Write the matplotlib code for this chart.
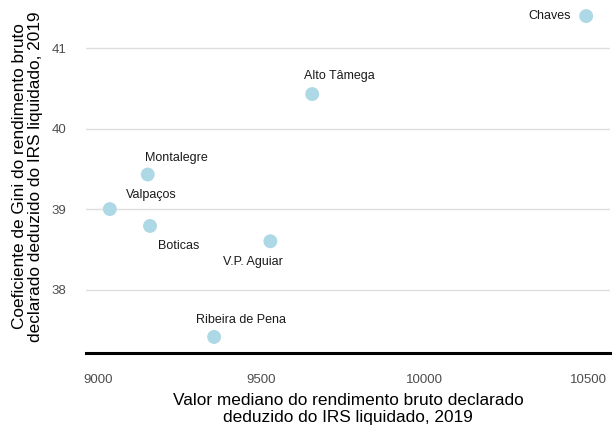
import numpy as np
import matplotlib.pyplot as plt

plt.rcParams['font.family'] = ['Liberation Sans', 'DejaVu Sans']

# values
regions = ['Chaves', 'Alto Tâmega', 'Montalegre', 'Valpaços', 'Boticas', 'V.P. Aguiar', 'Ribeira de Pena']
mediano = [10494, 9656, 9153, 9037, 9160, 9528, 9356]
gini = [41.40, 40.43, 39.43, 39.00, 38.79, 38.60, 37.41]

# label offsets in points (dx, dy) and horizontal alignment
offsets = {
    'Chaves': (-11, 0, 'right'),
    'Alto Tâmega': (-5.8, 13, 'left'),
    'Montalegre': (-2, 12, 'left'),
    'Valpaços': (11.5, 10, 'left'),
    'Boticas': (5.8, -14.4, 'left'),
    'V.P. Aguiar': (-34, -15, 'left'),
    'Ribeira de Pena': (-13, 12, 'left'),
}

fig = plt.figure(figsize=(6.13, 4.28), dpi=100)
ax = fig.add_axes([86/613, 75/428, 524/613, 353/428])

ax.scatter(mediano, gini, s=100, color='#add8e6', edgecolors='none', zorder=3)

for name, x, y in zip(regions, mediano, gini):
    dx, dy, ha = offsets[name]
    ax.annotate(name, (x, y), xytext=(dx, dy), textcoords='offset points',
                ha=ha, va='center', fontsize=9, color='#1a1a1a')

xmin, xmax = min(mediano), max(mediano)
ymin, ymax = min(gini), max(gini)
ax.set_xlim(xmin - 0.05 * (xmax - xmin), xmax + 0.05 * (xmax - xmin))
ax.set_ylim(ymin - 0.05 * (ymax - ymin), ymax + 0.05 * (ymax - ymin))

ax.set_xticks([9000, 9500, 10000, 10500])
ax.set_yticks([38, 39, 40, 41])
ax.tick_params(length=0, labelsize=9.5, labelcolor='#4d4d4d')
ax.tick_params(axis='x', pad=15)
ax.tick_params(axis='y', pad=14)

ax.grid(axis='y', color='#dedede', linewidth=1)
ax.grid(axis='x', visible=False)
ax.set_axisbelow(True)
for s in ['top', 'right', 'left']:
    ax.spines[s].set_visible(False)
ax.spines['bottom'].set_linewidth(2.2)
ax.spines['bottom'].set_color('black')

ax.set_xlabel('Valor mediano do rendimento bruto declarado\ndeduzido do IRS liquidado, 2019',
              fontsize=12.4, labelpad=5, color='black', linespacing=1.15)
ax.set_ylabel('Coeficiente de Gini do rendimento bruto\ndeclarado deduzido do IRS liquidado, 2019',
              fontsize=12.4, labelpad=6, color='black', linespacing=1.15)

fig.savefig('out.png', dpi=100)
